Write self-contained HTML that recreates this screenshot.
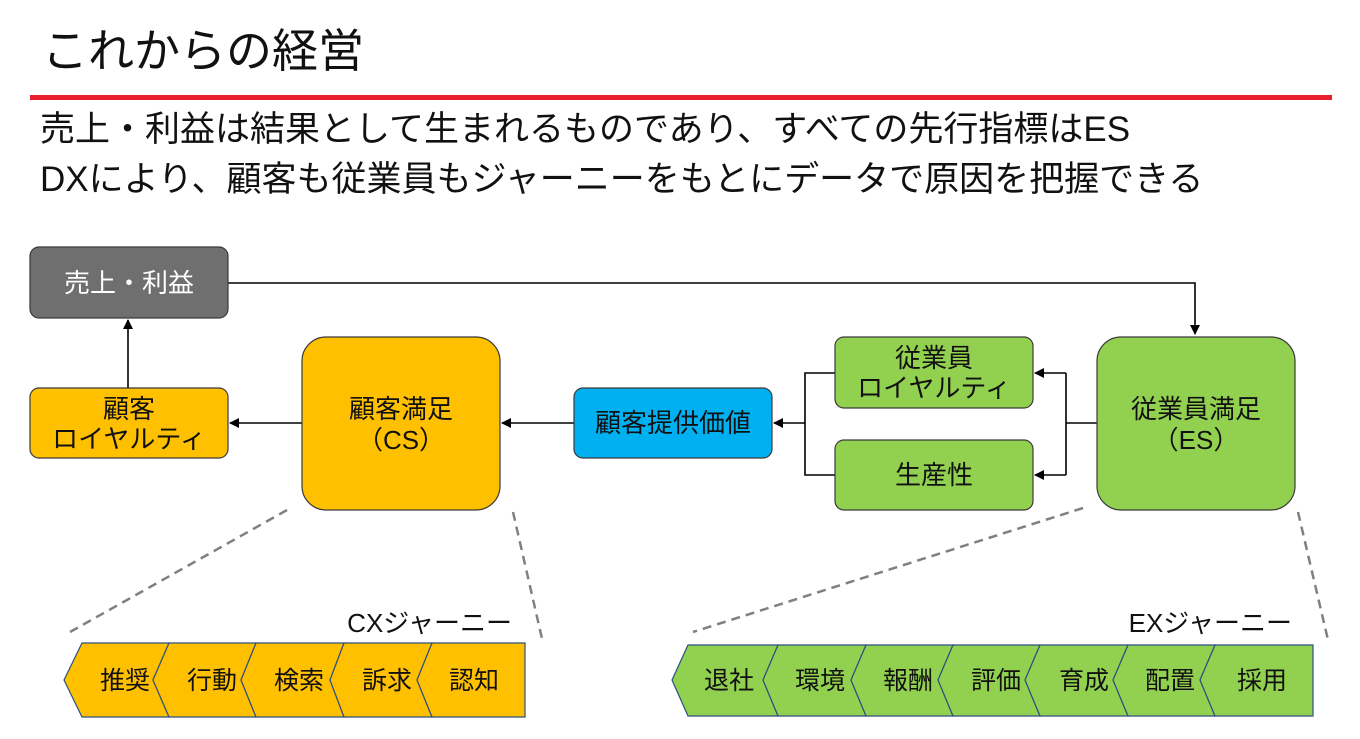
<!DOCTYPE html>
<html><head><meta charset="utf-8"><style>
html,body{margin:0;padding:0;background:#fff;}
svg{display:block;font-family:"Liberation Sans","Noto Sans CJK JP",sans-serif;}
</style></head><body>
<svg width="1360" height="739" viewBox="0 0 1360 739" xmlns="http://www.w3.org/2000/svg">
<defs>
<marker id="ah" markerWidth="10" markerHeight="10" refX="9" refY="5" orient="auto" markerUnits="userSpaceOnUse"><path d="M0,0 L10,5 L0,10 z" fill="#000"/></marker>
</defs>
<rect x="0" y="0" width="1360" height="739" fill="#fff"/>
<text x="42" y="67" font-size="46" fill="#111">これからの経営</text>
<rect x="30" y="95" width="1302" height="5" fill="#e8202e"/>
<text x="40" y="141" font-size="35" fill="#111">売上・利益は結果として生まれるものであり、すべての先行指標はES</text>
<text x="40" y="191" font-size="35" fill="#111">DXにより、顧客も従業員もジャーニーをもとにデータで原因を把握できる</text>

<g stroke="#000" stroke-width="1.6" fill="none">
<polyline points="228,283 1195,283 1195,334" marker-end="url(#ah)"/>
<line x1="128" y1="388" x2="128" y2="320" marker-end="url(#ah)"/>
<line x1="302" y1="423" x2="230" y2="423" marker-end="url(#ah)"/>
<line x1="574" y1="423" x2="502" y2="423" marker-end="url(#ah)"/>
<polyline points="835,373 805,373 805,475 835,475"/>
<line x1="805" y1="423" x2="774" y2="423" marker-end="url(#ah)"/>
<line x1="1097" y1="423" x2="1066" y2="423"/>
<polyline points="1066,373 1066,475"/>
<line x1="1066" y1="373" x2="1035" y2="373" marker-end="url(#ah)"/>
<line x1="1066" y1="475" x2="1035" y2="475" marker-end="url(#ah)"/>
</g>
<g stroke="#808080" stroke-width="2.5" stroke-dasharray="9,6" fill="none">
<line x1="287" y1="510" x2="70" y2="632"/>
<line x1="513" y1="512" x2="543" y2="643"/>
<line x1="1083" y1="508" x2="693" y2="632"/>
<line x1="1298" y1="512" x2="1328" y2="640"/>
</g>

<g stroke="#3a3a3a" stroke-width="1.2">
<rect x="30" y="247" width="198" height="71" rx="9" fill="#6f6f6f"/>
<rect x="30" y="388" width="198" height="70" rx="9" fill="#ffc000"/>
<rect x="302" y="337" width="198" height="173" rx="24" fill="#ffc000"/>
<rect x="574" y="388" width="198" height="70" rx="9" fill="#00b0f0"/>
<rect x="835" y="337" width="198" height="71" rx="9" fill="#92d050"/>
<rect x="835" y="440" width="198" height="70" rx="9" fill="#92d050"/>
<rect x="1097" y="337" width="198" height="173" rx="24" fill="#92d050"/>
</g>
<g font-size="26" text-anchor="middle" fill="#111">
<text x="129" y="292" fill="#fff">売上・利益</text>
<text x="129" y="418">顧客</text>
<text x="129" y="448">ロイヤルティ</text>
<text x="401" y="418">顧客満足</text>
<text x="401" y="449">（CS）</text>
<text x="673" y="432">顧客提供価値</text>
<text x="934" y="367">従業員</text>
<text x="934" y="397">ロイヤルティ</text>
<text x="934" y="484">生産性</text>
<text x="1196" y="418">従業員満足</text>
<text x="1196" y="449">（ES）</text>
</g>
<g font-size="26" text-anchor="end" fill="#111">
<text x="512" y="632">CXジャーニー</text>
<text x="1292" y="632">EXジャーニー</text>
</g>

<g stroke="#2f4f7f" stroke-width="1.2" fill="#ffc000">
<polygon points="82,643 169,643 153,680 169,717 82,717 64,680"/>
<polygon points="169,643 256,643 241,680 256,717 169,717 153,680"/>
<polygon points="256,643 344,643 330,680 344,717 256,717 241,680"/>
<polygon points="344,643 432,643 417,680 432,717 344,717 330,680"/>
<polygon points="432,643 525,643 525,717 432,717 417,680"/>
</g>
<g font-size="25" text-anchor="middle" fill="#111">
<text x="125" y="689">推奨</text>
<text x="212" y="689">行動</text>
<text x="299" y="689">検索</text>
<text x="387" y="689">訴求</text>
<text x="474" y="689">認知</text>
</g>

<g stroke="#2f4f7f" stroke-width="1.2" fill="#92d050">
<polygon points="688,645 778,645 763,680 778,716 688,716 672,680"/>
<polygon points="778,645 866,645 851,680 866,716 778,716 763,680"/>
<polygon points="866,645 953,645 938,680 953,716 866,716 851,680"/>
<polygon points="953,645 1040,645 1025,680 1040,716 953,716 938,680"/>
<polygon points="1040,645 1128,645 1113,680 1128,716 1040,716 1025,680"/>
<polygon points="1128,645 1215,645 1200,680 1215,716 1128,716 1113,680"/>
<polygon points="1215,645 1313,645 1313,716 1215,716 1200,680"/>
</g>
<g font-size="25" text-anchor="middle" fill="#111">
<text x="729" y="689">退社</text>
<text x="820" y="689">環境</text>
<text x="908" y="689">報酬</text>
<text x="996" y="689">評価</text>
<text x="1084" y="689">育成</text>
<text x="1170" y="689">配置</text>
<text x="1262" y="689">採用</text>
</g>
</svg>
</body></html>
